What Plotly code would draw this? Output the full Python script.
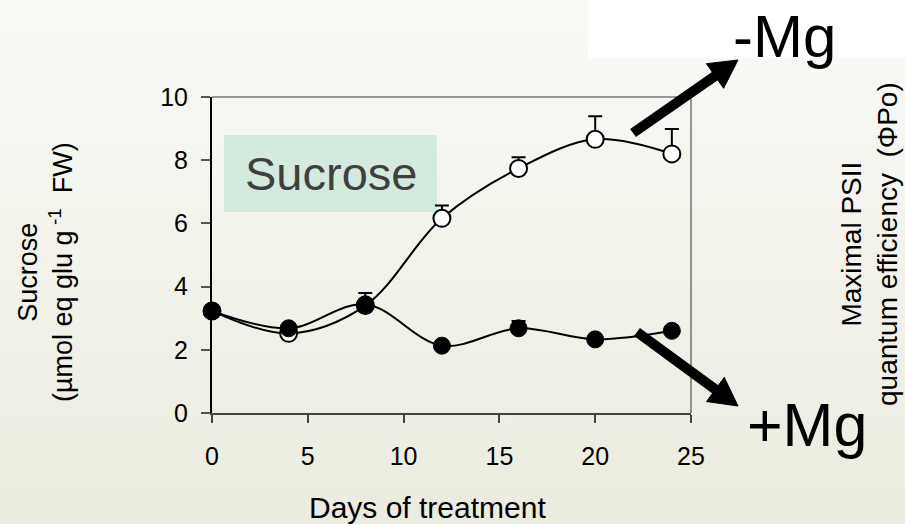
import base64
import math
import plotly.graph_objects as go

# Days of treatment
days = [0, 4, 8, 12, 16, 20, 24]

# Sucrose content, magnesium-deprived plants (open symbols)
minus_mg = [3.23, 2.52, 3.40, 6.16, 7.74, 8.66, 8.20]
minus_mg_err = [0, 0, 0, 0.41, 0.35, 0.73, 0.79]

# Sucrose content, control plants (filled symbols)
plus_mg = [3.23, 2.68, 3.44, 2.13, 2.68, 2.33, 2.60]
plus_mg_err = [0, 0, 0.36, 0, 0.23, 0, 0.15]

x_ticks = [0, 5, 10, 15, 20, 25]
y_ticks = [0, 2, 4, 6, 8, 10]

W, H = 905, 524
L, R, T, B = 212, 214, 97, 111
pw, ph = W - L - R, H - T - B


def px(x):
    return (x - L) / pw


def py(y):
    return (H - B - y) / ph


FONT = "Liberation Sans, Arial, sans-serif"

fig = go.Figure()

fig.add_trace(go.Scatter(
    x=days, y=minus_mg, mode="lines+markers", name="-Mg",
    line=dict(color="black", width=2, shape="spline"),
    marker=dict(size=17, color="white", line=dict(color="black", width=2)),
    error_y=dict(type="data", symmetric=False, array=minus_mg_err,
                 arrayminus=[0] * len(days), color="black", thickness=2, width=7),
    cliponaxis=False,
))
fig.add_trace(go.Scatter(
    x=days, y=plus_mg, mode="lines+markers", name="+Mg",
    line=dict(color="black", width=2, shape="spline"),
    marker=dict(size=17, color="black", line=dict(color="black", width=1)),
    error_y=dict(type="data", symmetric=False, array=plus_mg_err,
                 arrayminus=[0] * len(days), color="black", thickness=2, width=7),
    cliponaxis=False,
))

# slide background: soft vertical gradient
svg = (
    f'<svg xmlns="http://www.w3.org/2000/svg" width="{W}" height="{H}">'
    '<defs><linearGradient id="g" x1="0" y1="0" x2="0" y2="1">'
    '<stop offset="0" stop-color="#fafaf7"/>'
    '<stop offset="1" stop-color="#ebebdf"/>'
    '</linearGradient></defs>'
    f'<rect width="{W}" height="{H}" fill="url(#g)"/></svg>'
)
bg_uri = "data:image/svg+xml;base64," + base64.b64encode(svg.encode()).decode()


def arrow_shapes(tail, tip, shaft=10, head_len=28, head_half=15):
    """Thick arrow (shaft line + filled triangular head), pixel input."""
    dx, dy = tip[0] - tail[0], tip[1] - tail[1]
    n = math.hypot(dx, dy)
    ux, uy = dx / n, dy / n
    bx, by = tip[0] - ux * head_len, tip[1] - uy * head_len
    nx, ny = -uy, ux
    p1 = (bx + nx * head_half, by + ny * head_half)
    p2 = (bx - nx * head_half, by - ny * head_half)
    path = (f"M{px(tip[0])},{py(tip[1])} L{px(p1[0])},{py(p1[1])} "
            f"L{px(p2[0])},{py(p2[1])} Z")
    return [
        dict(type="line", xref="paper", yref="paper",
             x0=px(tail[0]), y0=py(tail[1]), x1=px(bx + ux * 2), y1=py(by + uy * 2),
             line=dict(color="black", width=shaft)),
        dict(type="path", xref="paper", yref="paper", path=path,
             fillcolor="black", line=dict(color="black", width=1)),
    ]


shapes = [
    # frame: top and right edges
    dict(type="line", xref="paper", yref="paper", x0=0, x1=1, y0=1, y1=1,
         line=dict(color="#777", width=1.5)),
    dict(type="line", xref="paper", yref="paper", x0=1, x1=1, y0=0, y1=1,
         line=dict(color="#333", width=1)),
    # "Sucrose" label box
    dict(type="rect", xref="paper", yref="paper", x0=px(224), x1=px(437),
         y0=py(212), y1=py(135), fillcolor="#d3eadd", line=dict(width=0),
         layer="below"),
    # "-Mg" label box
    dict(type="rect", xref="paper", yref="paper", x0=px(588), x1=px(905),
         y0=py(58), y1=py(0), fillcolor="white", line=dict(width=0)),
]
shapes += arrow_shapes((633, 133), (738, 60))
shapes += arrow_shapes((637, 332), (738, 406))

fig.update_layout(
    width=W, height=H,
    margin=dict(l=L, r=R, t=T, b=B),
    paper_bgcolor="#f3f3ec",
    plot_bgcolor="rgba(0,0,0,0)",
    showlegend=False,
    font=dict(family=FONT, color="black"),
    images=[dict(source=bg_uri, xref="paper", yref="paper",
                 x=px(0), y=py(0), sizex=W / pw, sizey=H / ph,
                 xanchor="left", yanchor="top", sizing="stretch", layer="below")],
    xaxis=dict(range=[0, 25], tickvals=x_ticks, ticks="outside", ticklen=8,
               tickwidth=2, tickcolor="#444", showline=True, linecolor="#444",
               linewidth=2, showgrid=False, zeroline=False,
               tickfont=dict(size=25, color="black"), ticklabelstandoff=12),
    yaxis=dict(range=[0, 10], tickvals=y_ticks, ticks="outside", ticklen=9,
               tickwidth=1.5, tickcolor="#555", showline=True, linecolor="black",
               linewidth=2, showgrid=False, zeroline=False,
               tickfont=dict(size=25, color="black"), ticklabelstandoff=8),
    shapes=shapes,
)

ann = [
    dict(text="Sucrose", x=px(331), y=py(173), font=dict(size=47, color="#404040")),
    dict(text="-Mg", x=px(784), y=py(36), font=dict(size=60, color="black")),
    dict(text="+Mg", x=px(807), y=py(425), font=dict(size=61, color="black")),
    dict(text="Days of treatment", x=px(427), y=py(507), font=dict(size=30)),
    dict(text="Sucrose<br>(µmol eq glu g<sup> -1</sup>\u00a0 FW)", x=px(45), y=py(272),
         textangle=-90, font=dict(size=27)),
    dict(text="Maximal PSII<br>quantum efficiency\u00a0 (ΦPo)", x=px(869), y=py(244),
         textangle=-90, font=dict(size=28)),
]
for a in ann:
    fig.add_annotation(xref="paper", yref="paper", xanchor="center",
                       yanchor="middle", showarrow=False, **a)

fig.write_html("out.html")
